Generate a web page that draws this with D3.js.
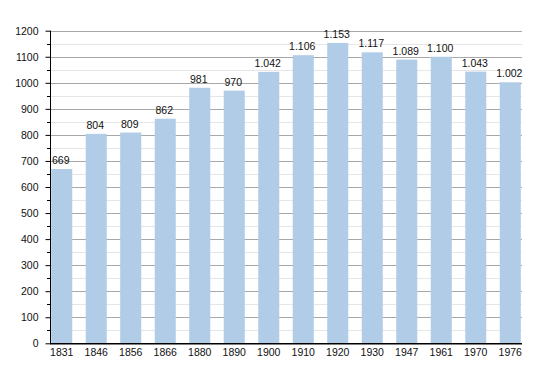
<!DOCTYPE html>
<html>
<head>
<meta charset="utf-8">
<script src="https://cdn.jsdelivr.net/npm/d3@7"></script>
<style>
  body { margin: 0; background: #fff; }
  text { font-family: "Liberation Sans", Helvetica, Arial, sans-serif; }
</style>
</head>
<body>
<div id="chart"></div>
<script>
// population by census year
var years = ["1831","1846","1856","1866","1880","1890","1900","1910","1920","1930","1947","1961","1970","1976"];
var population = [669, 804, 809, 862, 981, 970, 1042, 1106, 1153, 1117, 1089, 1100, 1043, 1002];
var yTicks = [0,100,200,300,400,500,600,700,800,900,1000,1100,1200];
var yMinor = [50,150,250,350,450,550,650,750,850,950,1050,1150];

var width = 550, height = 373;
var plotLeft = 50, plotRight = 522, plotTop = 30.7, plotBottom = 343.3;

var svg = d3.select("#chart").append("svg")
  .attr("width", width)
  .attr("height", height);

var xScale = d3.scaleBand()
  .domain(years)
  .range([plotLeft, plotRight])
  .paddingInner(0.39)
  .paddingOuter(0.035);

var yScale = d3.scaleLinear()
  .domain([0, 1200])
  .range([plotBottom, plotTop]);

// grid lines, minor first
svg.append("g").selectAll("line")
  .data(yMinor).enter().append("line")
  .attr("x1", plotLeft).attr("x2", plotRight)
  .attr("y1", function(d){ return Math.round(yScale(d)) + 0.5; })
  .attr("y2", function(d){ return Math.round(yScale(d)) + 0.5; })
  .attr("stroke", "#e6e6e6");

svg.append("g").selectAll("line")
  .data(yTicks.slice(1)).enter().append("line")
  .attr("x1", plotLeft).attr("x2", plotRight)
  .attr("y1", function(d){ return Math.round(yScale(d)) + 0.5; })
  .attr("y2", function(d){ return Math.round(yScale(d)) + 0.5; })
  .attr("stroke", "#a8a8a8");

// bars
svg.append("g").selectAll("rect")
  .data(population).enter().append("rect")
  .attr("x", function(d,i){ return xScale(years[i]); })
  .attr("y", function(d){ return yScale(d); })
  .attr("width", xScale.bandwidth())
  .attr("height", function(d){ return yScale(0) - yScale(d); })
  .attr("fill", "#b1cce6");

// value labels, dot as thousands separator
var fmt = d3.formatLocale({decimal: ",", thousands: ".", grouping: [3], currency: ["", ""]}).format(",d");
svg.append("g").selectAll("text")
  .data(population).enter().append("text")
  .attr("x", function(d,i){ return xScale(years[i]) + xScale.bandwidth()/2 - 1; })
  .attr("y", function(d){ return yScale(d) - 5; })
  .attr("text-anchor", "middle")
  .attr("font-size", "10.5px")
  .attr("fill", "#111")
  .text(function(d){ return fmt(d); });

// y axis
var yAxis = svg.append("g")
  .attr("transform", "translate(" + (plotLeft + 0.5) + ",0)")
  .call(d3.axisLeft(yScale).tickValues(yTicks).tickSize(5).tickPadding(7).tickFormat(d3.format("d")));
yAxis.select(".domain").attr("d", "M0," + plotTop + "V" + plotBottom).attr("stroke", "#000");
yAxis.selectAll("text").attr("font-size", "10.5px").attr("fill", "#111").style("font-family", "'Liberation Sans', Helvetica, Arial, sans-serif");

svg.append("g").selectAll("line")
  .data(yMinor).enter().append("line")
  .attr("x1", plotLeft - 3).attr("x2", plotLeft)
  .attr("y1", function(d){ return Math.round(yScale(d)) + 0.5; })
  .attr("y2", function(d){ return Math.round(yScale(d)) + 0.5; })
  .attr("stroke", "#000");

// x axis
var xAxis = svg.append("g")
  .attr("transform", "translate(0," + (plotBottom + 0.5) + ")")
  .call(d3.axisBottom(xScale).tickSize(0).tickPadding(5));
xAxis.select(".domain").attr("d", "M" + plotLeft + ",0H" + plotRight).attr("stroke", "#000").attr("stroke-width", 1.5);
xAxis.selectAll("text").attr("font-size", "10.5px").attr("fill", "#111").style("font-family", "'Liberation Sans', Helvetica, Arial, sans-serif");
</script>
</body>
</html>
